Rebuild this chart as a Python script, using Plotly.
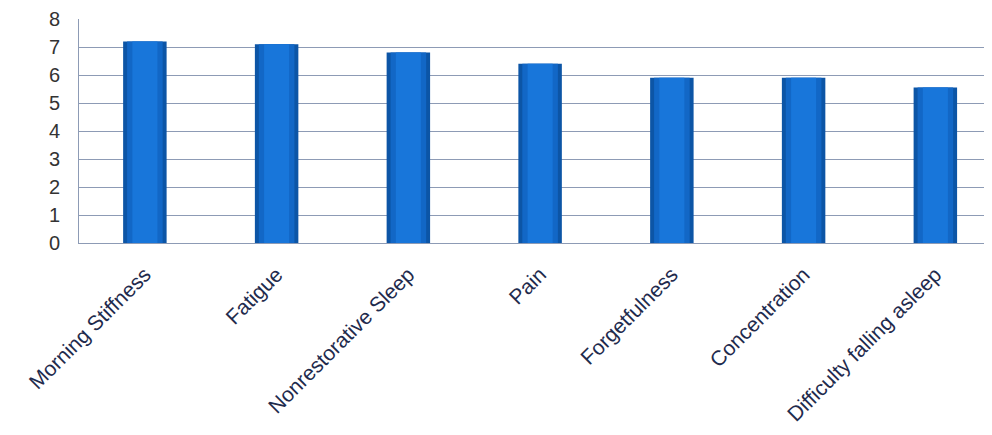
import plotly.graph_objects as go

categories = ["Morning Stiffness", "Fatigue", "Nonrestorative Sleep", "Pain",
              "Forgetfulness", "Concentration", "Difficulty falling asleep"]
values = [7.2, 7.1, 6.8, 6.4, 5.9, 5.9, 5.55]
y_ticks = [0, 1, 2, 3, 4, 5, 6, 7, 8]

fig = go.Figure()
# layered bars to mimic the shaded (edge-darkened) bar style
fig.add_trace(go.Bar(x=categories, y=values, width=0.33,
                     marker=dict(color="#0c55a6", line=dict(width=0)), hoverinfo="x+y"))
fig.add_trace(go.Bar(x=categories, y=values, width=0.27,
                     marker=dict(color="#1267c6", line=dict(width=0)), hoverinfo="skip"))
fig.add_trace(go.Bar(x=categories, y=values, width=0.19,
                     marker=dict(color="#1876da", line=dict(width=0)), hoverinfo="skip"))

fig.update_layout(
    barmode="overlay",
    width=984, height=427,
    margin=dict(l=71, r=0, t=11, b=192),
    paper_bgcolor="white", plot_bgcolor="white",
    showlegend=False,
    font=dict(family="Liberation Sans, Arial, sans-serif", color="#222"),
)
fig.update_yaxes(range=[0, 8], tickvals=y_ticks, showgrid=True, gridcolor="#8d9bb5",
                 gridwidth=1, showline=True, linecolor="#8d9bb5", linewidth=1,
                 tickfont=dict(size=20, color="#333"), ticklabelstandoff=14,
                 zeroline=False)
fig.update_xaxes(range=[-0.5, 6.43], tickangle=-45, showline=True, linecolor="#8d9bb5",
                 tickfont=dict(size=21, color="#1f2b4d"), ticklabelstandoff=10,
                 showgrid=False)

fig.write_html("out.html")
